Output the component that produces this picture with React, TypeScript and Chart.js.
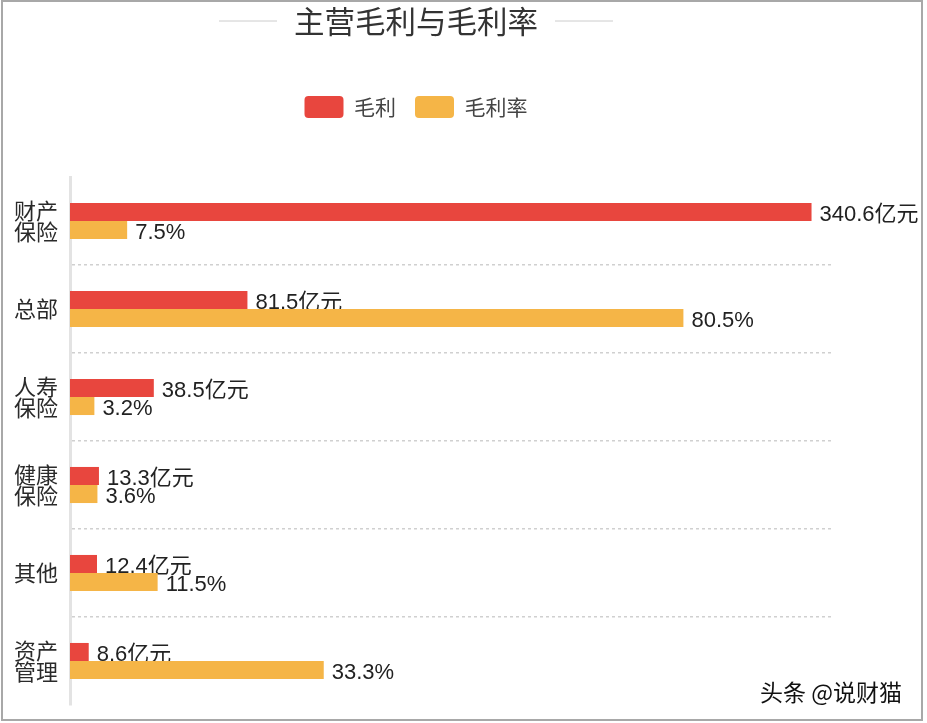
import { useEffect, useRef } from "react";
import { Chart, registerables, type Plugin } from "chart.js";

Chart.register(...registerables);

// 业务板块
const categories = [["财产", "保险"], "总部", ["人寿", "保险"], ["健康", "保险"], "其他", ["资产", "管理"]];
// 毛利（亿元）
const grossProfit = [340.6, 81.5, 38.5, 13.3, 12.4, 8.6];
// 毛利率（%）
const grossMargin = [7.5, 80.5, 3.2, 3.6, 11.5, 33.3];
const profitMax = 350;
const marginMax = 100;

const RED = "#e8463e";
const YELLOW = "#f5b547";
const LATIN = '"Liberation Sans", "Noto Sans CJK SC", sans-serif';
const CJK = '"Noto Sans CJK SC", sans-serif';
const TITLE_SIZE = 30.5;

function drawValueLabels(chart: Chart, di: number) {
  const meta = chart.getDatasetMeta(di);
  const ctx = chart.ctx;
  const values = chart.data.datasets[di].data as number[];
  ctx.save();
  ctx.font = `22px ${LATIN}`;
  ctx.fillStyle = "#222";
  ctx.textAlign = "left";
  ctx.textBaseline = "middle";
  meta.data.forEach((bar: any, i) => {
    const text = di === 0 ? `${values[i]}亿元` : `${values[i]}%`;
    ctx.fillText(text, bar.x + 8, bar.y + 3);
  });
  ctx.restore();
}

// red labels go under the yellow bars, yellow labels on top
const valueLabels: Plugin<"bar"> = {
  id: "valueLabels",
  beforeDatasetsDraw(chart) {
    drawValueLabels(chart as Chart, 0);
  },
  afterDatasetsDraw(chart) {
    drawValueLabels(chart as Chart, 1);
  },
};

const decorations: Plugin<"bar"> = {
  id: "decorations",
  beforeDraw(chart) {
    const { ctx, width, height } = chart;
    ctx.save();
    ctx.fillStyle = "#fff";
    ctx.fillRect(0, 0, width, height);
    ctx.restore();
  },
  afterDraw(chart) {
    const { ctx } = chart;
    ctx.save();

    // rules either side of the title
    const tb: any = (chart as any).titleBlock;
    if (tb) {
      ctx.font = `${TITLE_SIZE}px ${CJK}`;
      const w = ctx.measureText(tb.options.text).width;
      const cx = (tb.left + tb.right) / 2;
      const cy = tb.top + 3 + 18;
      ctx.strokeStyle = "#cccccc";
      ctx.lineWidth = 1;
      ctx.beginPath();
      ctx.moveTo(cx - w / 2 - 75, cy);
      ctx.lineTo(cx - w / 2 - 17, cy);
      ctx.moveTo(cx + w / 2 + 17, cy);
      ctx.lineTo(cx + w / 2 + 75, cy);
      ctx.stroke();
    }

    // watermark
    ctx.font = `23px ${CJK}`;
    ctx.fillStyle = "#111";
    ctx.textAlign = "left";
    ctx.textBaseline = "middle";
    ctx.fillText("头条 @说财猫", 760, 692);

    // frame
    ctx.strokeStyle = "#a8a8a8";
    ctx.lineWidth = 2;
    ctx.strokeRect(2, 1, 920, 719);
    ctx.restore();
  },
};

export default function App() {
  const canvasRef = useRef<HTMLCanvasElement | null>(null);
  const chartRef = useRef<Chart | null>(null);

  useEffect(() => {
    document.body.style.margin = "0";
    if (!canvasRef.current) return;
    if (chartRef.current) chartRef.current.destroy();

    chartRef.current = new Chart(canvasRef.current, {
      type: "bar",
      data: {
        labels: categories as any,
        datasets: [
          {
            label: "毛利",
            data: grossProfit,
            backgroundColor: RED,
            borderWidth: 0,
            xAxisID: "x",
            barPercentage: 1,
            categoryPercentage: 0.41,
          },
          {
            label: "毛利率",
            data: grossMargin,
            backgroundColor: YELLOW,
            borderWidth: 0,
            xAxisID: "x2",
            barPercentage: 1,
            categoryPercentage: 0.41,
          },
        ],
      },
      options: {
        indexAxis: "y",
        responsive: false,
        animation: false,
        events: [],
        layout: { padding: { left: 0, right: 95, top: 0, bottom: 18 } },
        plugins: {
          tooltip: { enabled: false },
          title: {
            display: true,
            text: "主营毛利与毛利率",
            color: "#333",
            font: { family: CJK, size: TITLE_SIZE, weight: "normal", lineHeight: 36 / TITLE_SIZE },
            padding: { top: 3, bottom: 38 },
          },
          legend: {
            display: true,
            labels: {
              boxWidth: 39,
              boxHeight: 22,
              useBorderRadius: true,
              borderRadius: 4,
              padding: 19,
              color: "#444",
              font: { family: CJK, size: 21 },
            },
          },
        },
        scales: {
          y: {
            type: "category",
            offset: true,
            grid: {
              offset: true,
              drawTicks: false,
              lineWidth: 1.5,
              color: (c: any) => (c.type === "tick" && c.index > 0 ? "#d0d0d0" : "rgba(0,0,0,0)"),
            },
            border: { display: true, color: "#e3e3e3", width: 3, dash: [3, 3] },
            ticks: {
              color: "#2a2a2a",
              padding: 12,
              font: { family: CJK, size: 22, lineHeight: 0.97 },
            },
            afterFit: (scale: any) => {
              scale.width = 70;
              scale.paddingTop = 0;
              scale.paddingBottom = 0;
            },
          },
          x: {
            type: "linear",
            position: "bottom",
            min: 0,
            max: profitMax,
            display: false,
          },
          x2: {
            type: "linear",
            position: "top",
            min: 0,
            max: marginMax,
            display: true,
            grid: { display: false, drawTicks: false },
            border: { display: false },
            ticks: { display: false },
            title: {
              display: true,
              text: " ",
              font: { size: 10, lineHeight: 1.2 },
              padding: { top: 0, bottom: 37 },
            },
          },
        },
      },
      plugins: [valueLabels, decorations],
    });

    return () => {
      if (chartRef.current) {
        chartRef.current.destroy();
        chartRef.current = null;
      }
    };
  }, []);

  return (
    <div style={{ width: 927, height: 723 }}>
      <canvas ref={canvasRef} width={927} height={723} />
    </div>
  );
}
